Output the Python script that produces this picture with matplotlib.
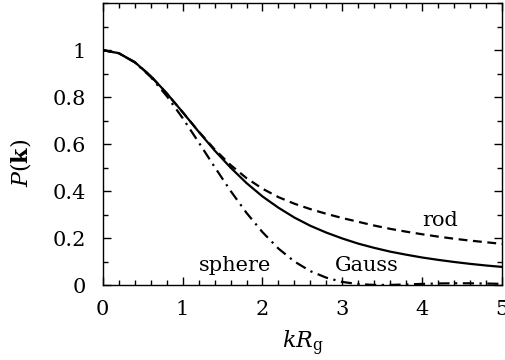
import numpy as np
import matplotlib
matplotlib.use("Agg")
from matplotlib import pyplot as plt

# kR_g grid and form factors
kr = [0.0, 0.2, 0.4, 0.6, 0.8, 1.0, 1.2, 1.4, 1.6, 1.8, 2.0, 2.2, 2.4,
      2.6, 2.8, 3.0, 3.2, 3.4, 3.6, 3.8, 4.0, 4.2, 4.4, 4.6, 4.8, 5.0]
gauss = [1.0, 0.987, 0.949, 0.890, 0.817, 0.736, 0.653, 0.573, 0.500,
         0.434, 0.377, 0.329, 0.287, 0.252, 0.223, 0.198, 0.176, 0.158,
         0.142, 0.129, 0.117, 0.107, 0.098, 0.090, 0.083, 0.077]
rod = [1.0, 0.987, 0.949, 0.890, 0.816, 0.736, 0.654, 0.578, 0.511,
       0.455, 0.410, 0.374, 0.346, 0.323, 0.303, 0.285, 0.269, 0.253,
       0.239, 0.227, 0.216, 0.206, 0.197, 0.189, 0.182, 0.175]
sphere = [1.0, 0.987, 0.948, 0.886, 0.805, 0.711, 0.608, 0.503, 0.401,
          0.307, 0.225, 0.155, 0.100, 0.059, 0.031, 0.013, 0.004, 0.0003,
          0.0004, 0.0024, 0.0047, 0.0065, 0.0074, 0.0072, 0.0062, 0.0048]

labels = ["Gauss", "rod", "sphere"]
label_pos = [(3.31, 0.061), (4.22, 0.251), (1.66, 0.061)]

plt.rcParams['font.family'] = ['DejaVu Serif']
plt.rcParams['mathtext.fontset'] = 'dejavuserif'
plt.rcParams['font.size'] = 15

fig = plt.figure(figsize=(5.05, 3.6), dpi=100)
ax = fig.add_axes([0.2034, 0.2083, 0.791, 0.783])

ax.plot(kr, gauss, color='black', lw=1.6, ls='-')
ax.plot(kr, rod, color='black', lw=1.6, ls=(0, (4, 2.5)))
ax.plot(kr, sphere, color='black', lw=1.6, ls=(0, (5, 2.5, 1, 2.5)))

for t, (x, y) in zip(labels, label_pos):
    ax.text(x, y, t, ha='center', va='baseline', fontsize=15)

ax.set_xlim(0, 5)
ax.set_ylim(0, 1.2)
ax.set_xticks([0, 1, 2, 3, 4, 5])
ax.set_xticks(np.arange(0, 5.01, 0.2), minor=True)
ax.set_yticks([0, 0.2, 0.4, 0.6, 0.8, 1.0])
ax.set_yticklabels(['0', '0.2', '0.4', '0.6', '0.8', '1'])
ax.set_yticks(np.arange(0, 1.21, 0.1), minor=True)
ax.tick_params(which='both', direction='in', top=True, right=True, width=1)
ax.tick_params(which='major', length=6)
ax.tick_params(which='minor', length=3.5)
ax.tick_params(axis='y', pad=12)
ax.tick_params(axis='x', pad=11)
for s in ax.spines.values():
    s.set_linewidth(1)

ax.set_xlabel(r'$kR_\mathrm{g}$', fontsize=16)
ax.set_ylabel(r'$P(\mathbf{k})$', fontsize=16)
ax.xaxis.set_label_coords(0.5, -0.155)
ax.yaxis.set_label_coords(-0.175, 0.435)

fig.savefig('out.png', dpi=100)
